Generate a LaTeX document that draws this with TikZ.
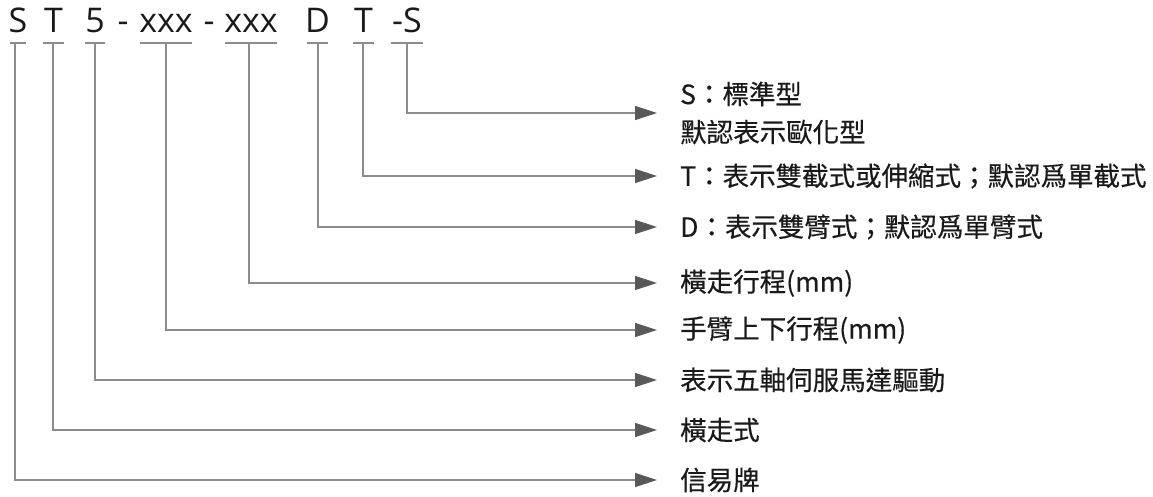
\documentclass[tikz,border=0pt]{standalone}
\usepackage{fontspec}
\setmainfont{Open Sans}
\newfontfamily\cjk[FakeBold=0.4]{Noto Sans CJK TC}
\usetikzlibrary{arrows.meta}
\definecolor{ln}{HTML}{8C8C8C}
\definecolor{ah}{HTML}{595959}
\definecolor{tx}{HTML}{1A1A1A}
\begin{document}
\begin{tikzpicture}[x=1pt,y=-1pt,
  top/.style={font=\fontsize{34}{40}\selectfont, text=tx, inner sep=0, anchor=base},
  lab/.style={font=\cjk\fontsize{26.5}{38}\selectfont, text=tx, inner sep=0, anchor=west, align=left},
  bar/.style={draw=ln, line width=1.4pt},
  conn/.style={draw=ln, line width=1.4pt, -{Triangle[length=22pt,width=14pt,color=ah]}}]
\useasboundingbox (0,0) rectangle (1153,497);
% top code letters
\node[top] (t1) at (18,33) {S};
\node[top] (t2) at (53.5,33) {T};
\node[top] (t3) at (95,33) {5};
\node[top] (d1) at (123,33) {-};
\node[top] (t4) at (166,33) {xxx};
\node[top] (d2) at (209,33) {-};
\node[top] (t5) at (251,33) {xxx};
\node[top] (t6) at (317.5,33) {D};
\node[top] (t7) at (363.5,33) {T};
\node[top] (t8) at (407,33) {-S};
% bars under letters
\draw[bar] (10,43) -- (26,43);
\draw[bar] (43,43) -- (64,43);
\draw[bar] (85,43) -- (105,43);
\draw[bar] (140,43) -- (192,43);
\draw[bar] (225,43) -- (277,43);
\draw[bar] (307,43) -- (328,43);
\draw[bar] (353,43) -- (374,43);
\draw[bar] (391,43) -- (423,43);
\coordinate (b1) at (15,43);
\coordinate (b2) at (53,43);
\coordinate (b3) at (95,43);
\coordinate (b4) at (166,43);
\coordinate (b5) at (249,43);
\coordinate (b6) at (318,43);
\coordinate (b7) at (363,43);
\coordinate (b8) at (407,43);
% labels
\node[lab] (L8) at (680,113) {S：標準型\\默認表示歐化型};
\node[lab] (L7) at (680,176) {T：表示雙截式或伸縮式；默認爲單截式};
\node[lab] (L6) at (680,227) {D：表示雙臂式；默認爲單臂式};
\node[lab] (L5) at (680,283) {橫走行程(mm)};
\node[lab] (L4) at (680,330) {手臂上下行程(mm)};
\node[lab] (L3) at (680,380) {表示五軸伺服馬達驅動};
\node[lab] (L2) at (680,430) {橫走式};
\node[lab] (L1) at (680,480) {信易牌};
% connectors
\foreach \i in {1,...,8}{
  \draw[conn] (b\i) |- ([xshift=-23]L\i.west);
}
\end{tikzpicture}
\end{document}
